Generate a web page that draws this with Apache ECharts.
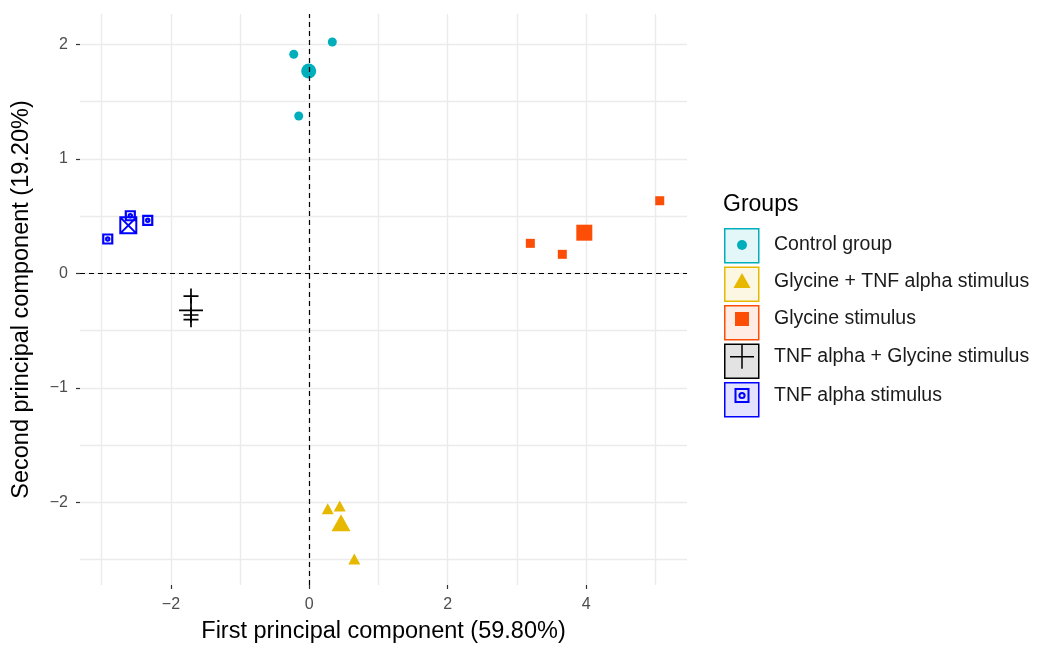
<!DOCTYPE html>
<html><head><meta charset="utf-8">
<script src="https://cdn.jsdelivr.net/npm/echarts@6/dist/echarts.min.js"></script>
<style>html,body{margin:0;padding:0;background:#fff}#c{width:1046px;height:650px}</style>
</head><body><div id="c"></div>
<script>
// ---- data ----
const groups = ['Control group', 'Glycine + TNF alpha stimulus', 'Glycine stimulus', 'TNF alpha + Glycine stimulus', 'TNF alpha stimulus'];
const colors = ['#00AFBB', '#E7B800', '#FC4E07', '#000000', '#0000FF'];
const controlPts = [[0.332, 2.020], [-0.225, 1.913], [-0.153, 1.374]];
const glyTnfPts = [[0.266, -2.056], [0.439, -2.032], [0.650, -2.495]];
const glyPts = [[3.194, 0.262], [3.656, 0.166], [5.064, 0.634]];
const tnfGlyPts = [[-1.71, -0.199], [-1.71, -0.364], [-1.71, -0.405]];
const tnfPts = [[-2.913, 0.300], [-2.587, 0.503], [-2.335, 0.463]];
const centroids = [[-0.009, 1.767], [0.458, -2.178], [3.974, 0.355], [-1.71, -0.323], [-2.616, 0.419]];
const xTicks = [-2, 0, 2, 4];
const xMinor = [-3, -1, 1, 3, 5];
const yTicks = [-2, -1, 0, 1, 2];
const yMinor = [-2.5, -1.5, -0.5, 0.5, 1.5];
const xTitle = 'First principal component (59.80%)';
const yTitle = 'Second principal component (19.20%)';
const legendTitle = 'Groups';

const pointSets = [controlPts, glyTnfPts, glyPts, tnfGlyPts, tnfPts];

// ---- styling ----
const FONT = 'Liberation Sans, Arial, sans-serif';
const GRID_COL = '#EBEBEB';
const PLUS = 'path://M0,-1L0,1M-1,0L1,0';
const BOX_CIRC = 'path://M-1,-1L1,-1L1,1L-1,1Z M0.36,0A0.36,0.36 0 1 1 -0.36,0A0.36,0.36 0 1 1 0.36,0Z';
const BOX_X = 'path://M-1,-1L1,-1L1,1L-1,1Z M-1,-1L1,1 M1,-1L-1,1';

const markStyle = [
  {pt: {symbol: 'circle', size: 9, filled: true}, ce: {symbol: 'circle', size: 15, filled: true}},
  {pt: {symbol: 'triangle', size: [12, 11], filled: true}, ce: {symbol: 'triangle', size: [19, 17], filled: true}},
  {pt: {symbol: 'rect', size: 9, filled: true}, ce: {symbol: 'rect', size: 16, filled: true}},
  {pt: {symbol: PLUS, size: 15, filled: false, bw: 1.7}, ce: {symbol: PLUS, size: 24, filled: false, bw: 1.7}},
  {pt: {symbol: BOX_CIRC, size: 9, filled: false, bw: 2.2}, ce: {symbol: BOX_X, size: 16, filled: false, bw: 2}}
];

function hexToRgba(h, a) {
  const n = parseInt(h.slice(1), 16);
  return 'rgba(' + ((n >> 16) & 255) + ',' + ((n >> 8) & 255) + ',' + (n & 255) + ',' + a + ')';
}
function itemStyleFor(m, col) {
  return m.filled ? {color: col, borderWidth: 0, opacity: 1}
                  : {color: 'transparent', borderColor: col, borderWidth: m.bw, opacity: 1};
}

const series = [];
groups.forEach((g, i) => {
  series.push({
    name: g, type: 'scatter', xAxisIndex: 0, yAxisIndex: 0,
    data: pointSets[i], symbol: markStyle[i].pt.symbol, symbolSize: markStyle[i].pt.size,
    itemStyle: itemStyleFor(markStyle[i].pt, colors[i]),
    emphasis: {disabled: true}, z: 3
  });
});
groups.forEach((g, i) => {
  series.push({
    name: g, type: 'scatter', xAxisIndex: 0, yAxisIndex: 0,
    data: [centroids[i]], symbol: markStyle[i].ce.symbol, symbolSize: markStyle[i].ce.size,
    itemStyle: itemStyleFor(markStyle[i].ce, colors[i]),
    emphasis: {disabled: true}, z: 3
  });
});
// dashed reference lines at 0
series.push({
  type: 'scatter', xAxisIndex: 0, yAxisIndex: 0, data: [], silent: true, z: 4,
  markLine: {
    silent: true, symbol: ['none', 'none'], label: {show: false},
    lineStyle: {color: '#000', width: 1.2, type: [5, 4]},
    emphasis: {disabled: true},
    data: [{xAxis: 0}, {yAxis: 0}]
  }
});

// legend icons (padded so that the icon box is 44x34 and the symbol sits in the left 34px)
const PAD = 'M-17,-17M27,17';
const legendBoxIcon = 'path://' + PAD + 'M-17,-17L17,-17L17,17L-17,17Z';
const legendSym = [
  {icon: 'path://' + PAD + 'M5,0A5,5 0 1 1 -5,0A5,5 0 1 1 5,0Z', filled: true},
  {icon: 'path://' + PAD + 'M0,-9L8.5,6L-8.5,6Z', filled: true},
  {icon: 'path://' + PAD + 'M-7,-7L7,-7L7,7L-7,7Z', filled: true},
  {icon: 'path://' + PAD + 'M0,-12L0,12M-12,0L12,0', filled: false, bw: 1.5},
  {icon: 'path://' + PAD + 'M-6.5,-6.5L6.5,-6.5L6.5,6.5L-6.5,6.5Z M2.6,0A2.6,2.6 0 1 1 -2.6,0A2.6,2.6 0 1 1 2.6,0Z', filled: false, bw: 2}
];

const legendCommon = {
  orient: 'vertical', left: 724, top: 228, padding: 0, itemGap: 3,
  itemWidth: 44, itemHeight: 34, selectedMode: false
};

const axisLabelFmt = v => String(v).replace('-', '\u2212');

const option = {
  animation: false,
  backgroundColor: '#ffffff',
  textStyle: {fontFamily: FONT},
  title: {
    text: legendTitle, left: 723, top: 191,
    textStyle: {fontFamily: FONT, fontSize: 23, fontWeight: 'normal', color: '#000', lineHeight: 28},
    padding: 0
  },
  legend: [
    Object.assign({}, legendCommon, {
      z: 4,
      formatter: () => '',
      data: groups.map((g, i) => ({
        name: g, icon: legendBoxIcon,
        itemStyle: {color: hexToRgba(colors[i], 0.11), borderColor: colors[i], borderWidth: 1.5, opacity: 1}
      })),
      textStyle: {fontSize: 19.5, fontFamily: FONT}
    }),
    Object.assign({}, legendCommon, {
      z: 5,
      data: groups.map((g, i) => ({
        name: g, icon: legendSym[i].icon,
        itemStyle: legendSym[i].filled ? {color: colors[i], borderWidth: 0, opacity: 1}
                                       : {color: 'transparent', borderColor: colors[i], borderWidth: legendSym[i].bw, opacity: 1}
      })),
      textStyle: {fontSize: 19.5, fontFamily: FONT, color: '#1A1A1A'}
    })
  ],
  grid: {left: 80, right: 359, top: 14, bottom: 65, containLabel: false, outerBoundsMode: 'none'},
  xAxis: [
    {
      type: 'value', gridIndex: 0, min: -3.314, max: 5.458, position: 'bottom',
      name: xTitle, nameLocation: 'middle', nameGap: 35, nameMoveOverlap: false,
      nameTextStyle: {fontFamily: FONT, fontSize: 23.5, color: '#000'},
      axisLine: {show: false, onZero: false},
      axisTick: {show: true, customValues: xTicks, length: 4, lineStyle: {color: '#333', width: 1.2}},
      axisLabel: {customValues: xTicks, color: '#4D4D4D', fontSize: 16, fontFamily: FONT, margin: 12,
                  formatter: axisLabelFmt},
      splitLine: {show: true, lineStyle: {color: GRID_COL, width: 1.4}},
      z: 1
    },
    {
      type: 'value', gridIndex: 0, min: -3.314, max: 5.458, position: 'bottom',
      axisLine: {show: false, onZero: false},
      axisTick: {show: false, customValues: xMinor},
      axisLabel: {show: false, customValues: xMinor},
      splitLine: {show: true, lineStyle: {color: GRID_COL, width: 1.4}},
      z: 0
    }
  ],
  yAxis: [
    {
      type: 'value', gridIndex: 0, min: -2.722, max: 2.265, position: 'left',
      name: yTitle, nameLocation: 'middle', nameGap: 46, nameMoveOverlap: false,
      nameTextStyle: {fontFamily: FONT, fontSize: 23.5, color: '#000'},
      axisLine: {show: false, onZero: false},
      axisTick: {show: true, customValues: yTicks, length: 4, lineStyle: {color: '#333', width: 1.2}},
      axisLabel: {customValues: yTicks, color: '#4D4D4D', fontSize: 16, fontFamily: FONT, margin: 12,
                  formatter: axisLabelFmt},
      splitLine: {show: true, lineStyle: {color: GRID_COL, width: 1.4}},
      z: 1
    },
    {
      type: 'value', gridIndex: 0, min: -2.722, max: 2.265, position: 'left',
      axisLine: {show: false, onZero: false},
      axisTick: {show: false, customValues: yMinor},
      axisLabel: {show: false, customValues: yMinor},
      splitLine: {show: true, lineStyle: {color: GRID_COL, width: 1.4}},
      z: 0
    }
  ],
  series: series
};

const chart = echarts.init(document.getElementById('c'), null, {renderer: 'canvas'});
chart.setOption(option);
</script>
</body></html>
